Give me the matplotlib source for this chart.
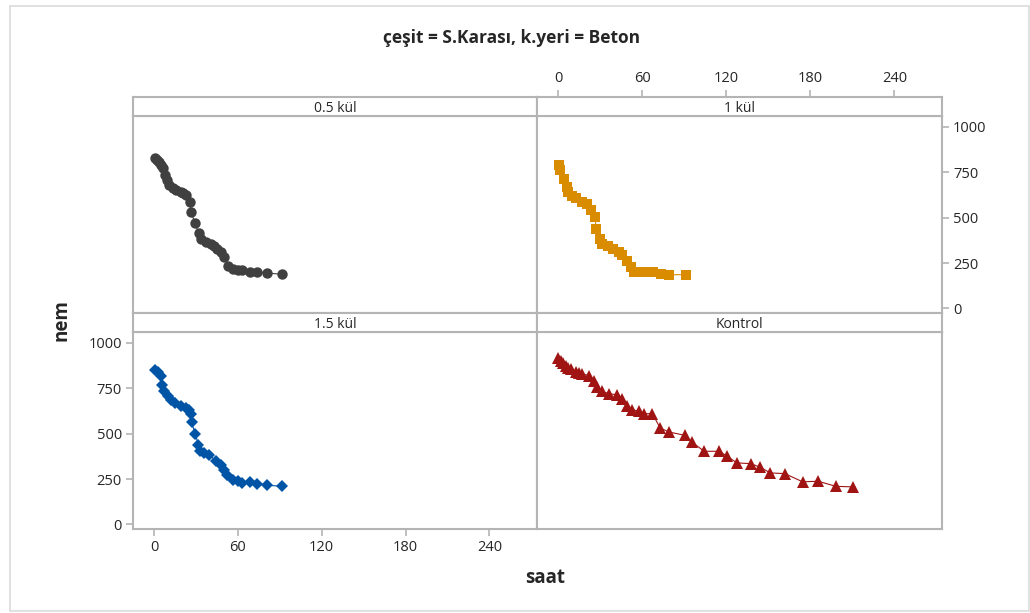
import matplotlib.pyplot as plt
from matplotlib.patches import Rectangle

plt.rcParams["font.family"] = ["Open Sans", "DejaVu Sans"]

# nem vs saat readings for each kül level
saat_05 = [0.7, 2.0, 3.8, 5.2, 6.7, 8.0, 9.3, 11.0, 13.3, 16.0, 19.3, 21.0,
           22.9, 26.0, 26.4, 29.5, 31.9, 33.6, 37.1, 40.7, 43.0, 45.0, 47.9,
           49.8, 53.3, 56.2, 59.8, 63.3, 68.8, 73.6, 81.2, 91.9]
nem_05 = [827, 820, 808, 790, 772, 735, 707, 680, 661, 655, 643, 635,
          624, 587, 532, 468, 413, 380, 366, 354, 345, 330, 311,
          284, 234, 219, 214, 214, 201, 201, 195, 188]

saat_1 = [0.5, 1.4, 4.3, 6.2, 7.4, 10.2, 12.6, 17.4, 20.9, 23.8, 26.2, 27.4,
          29.8, 31.7, 35.7, 39.5, 43.6, 46.0, 49.5, 51.9, 54.3, 59.0, 62.4,
          68.1, 73.3, 79.3, 91.2]
nem_1 = [790, 762, 711, 670, 643, 619, 606, 587, 578, 545, 501, 440,
         385, 357, 343, 330, 311, 293, 261, 228, 201, 201, 201,
         201, 192, 186, 186]

saat_15 = [1.0, 3.1, 5.0, 5.7, 7.4, 9.8, 12.1, 15.0, 19.3, 22.9, 25.2, 26.4,
           26.9, 29.5, 31.7, 33.1, 35.9, 39.5, 44.3, 47.9, 50.2, 52.6, 56.2,
           59.8, 63.3, 68.8, 74.0, 81.2, 91.9]
nem_15 = [852, 837, 815, 769, 733, 709, 687, 669, 654, 641, 632, 608,
          562, 500, 440, 403, 394, 385, 348, 330, 302, 275, 247,
          238, 229, 234, 225, 216, 210]

saat_k = [0.0, 1.9, 3.5, 5.5, 7.0, 9.0, 12.6, 15.0, 17.4, 22.1, 25.7, 28.1,
          31.7, 36.4, 42.4, 46.0, 49.5, 53.1, 57.9, 61.4, 67.4, 72.9, 79.3,
          90.5, 95.9, 104.3, 115.0, 120.9, 127.6, 137.6, 144.3, 151.4, 161.9,
          174.5, 185.7, 198.3, 210.2]
nem_k = [916, 900, 892, 870, 862, 855, 842, 836, 830, 819, 791, 757,
         733, 720, 714, 691, 650, 632, 623, 610, 610, 531, 509,
         491, 452, 403, 403, 375, 339, 335, 315, 284, 280,
         235, 238, 210, 207]

panels = [
    ("0.5 kül", saat_05, nem_05, "#404040", "o", 7.5),
    ("1 kül", saat_1, nem_1, "#d98c00", "s", 7.0),
    ("1.5 kül", saat_15, nem_15, "#0054a6", "D", 6.3),
    ("Kontrol", saat_k, nem_k, "#a01414", "^", 8.5),
]

x_ticks = [0, 60, 120, 180, 240]
y_ticks = [0, 250, 500, 750, 1000]

W, H = 1030, 613
frame_color = "#b4b4b4"
text_color = "#262626"


def px_rect(x0, y0, x1, y1):
    return [x0 / W, 1 - y1 / H, (x1 - x0) / W, (y1 - y0) / H]


fig = plt.figure(figsize=(W / 100, H / 100), dpi=100)

# light border around the whole graph
fig.patches.append(Rectangle((10 / W, 1 - 611 / H), 1019 / W, 605 / H,
                             transform=fig.transFigure, fill=False,
                             edgecolor="#dcdcdc", linewidth=1.2))

cols = [(133, 537), (537, 942)]
rows = [(97, 116, 313), (313, 332, 529)]

for i, (label, xs, ys, color, marker, ms) in enumerate(panels):
    r, c = divmod(i, 2)
    x0, x1 = cols[c]
    s0, p0, p1 = rows[r]

    ax = fig.add_axes(px_rect(x0, p0, x1, p1))
    ax.plot(xs, ys, color=color, marker=marker, markersize=ms,
            linewidth=0.8, markeredgewidth=0)
    ax.set_xlim(-15, 274)
    ax.set_ylim(-25, 1060)
    ax.set_xticks(x_ticks)
    ax.set_yticks(y_ticks)
    for sp in ax.spines.values():
        sp.set_color(frame_color)
        sp.set_linewidth(1.5)
    ax.tick_params(direction="out", length=5, width=1.2, color=frame_color,
                   labelsize=10.5, labelcolor=text_color, pad=3)
    ax.tick_params(bottom=(r == 1 and c == 0), labelbottom=(r == 1 and c == 0),
                   left=(r == 1 and c == 0), labelleft=(r == 1 and c == 0),
                   right=(r == 0 and c == 1), labelright=(r == 0 and c == 1),
                   top=False, labeltop=False)

    # strip with the panel name
    sx = fig.add_axes(px_rect(x0, s0, x1, p0))
    sx.set_xlim(-15, 274)
    sx.set_yticks([])
    for sp in sx.spines.values():
        sp.set_color(frame_color)
        sp.set_linewidth(1.5)
    if r == 0 and c == 1:
        sx.set_xticks(x_ticks)
        sx.tick_params(axis="x", bottom=False, labelbottom=False, top=True,
                       labeltop=True, direction="out", length=5, width=1.2,
                       color=frame_color, labelsize=10.5,
                       labelcolor=text_color, pad=3)
    else:
        sx.set_xticks([])
    sx.text(0.5, 0.42, label, transform=sx.transAxes, ha="center",
            va="center", fontsize=10, color=text_color)

fig.text(512 / W, 1 - 38 / H, "çeşit = S.Karası, k.yeri = Beton",
         ha="center", va="center", fontsize=12.5, fontweight="bold",
         color=text_color)
fig.text(545 / W, 1 - 578 / H, "saat", ha="center", va="center",
         fontsize=13.5, fontweight="bold", color=text_color)
fig.text(62 / W, 1 - 320 / H, "nem", ha="center", va="center",
         rotation=90, fontsize=13.5, fontweight="bold", color=text_color)

fig.savefig("out.png", dpi=100)
